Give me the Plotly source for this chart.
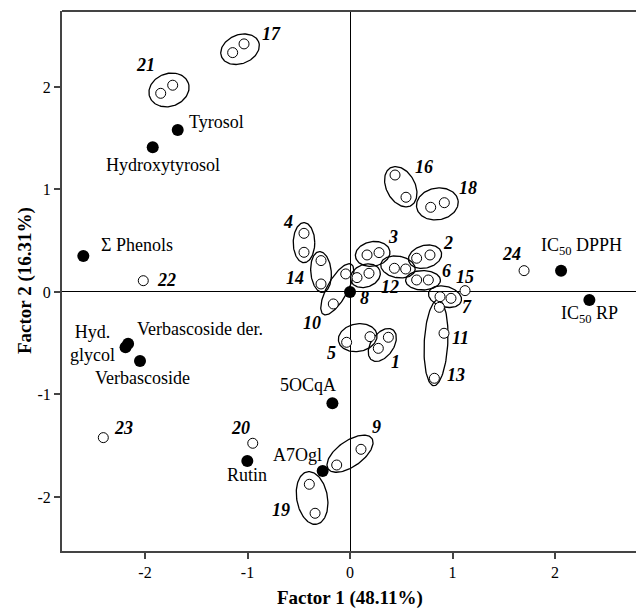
import numpy as np
import plotly.graph_objects as go

# ---- Sample scores (open circles) ----
sample_x = [-0.449, -0.449, -0.283, -0.283, -0.042, -0.163, 0.166, 0.283, 0.068, 0.185,
            0.433, 0.543, 0.650, 0.780, 0.650, 0.764, 1.122, 0.878, 0.985, 0.872,
            0.917, 0.823, -0.033, 0.195, 0.276, 0.374, 0.439, 0.546, 0.787, 0.920,
            -1.145, -1.034, -1.847, -1.730, -2.017, -2.407, -0.949, 1.698, -0.130, 0.107,
            -0.397, -0.341]
sample_y = [0.572, 0.387, 0.306, 0.078, 0.176, -0.117, 0.361, 0.384, 0.140, 0.182,
            0.231, 0.224, 0.329, 0.361, 0.117, 0.117, 0.013, -0.046, -0.062, -0.150,
            -0.403, -0.842, -0.491, -0.436, -0.550, -0.442, 1.141, 0.924, 0.826, 0.871,
            2.335, 2.420, 1.938, 2.017, 0.110, -1.421, -1.476, 0.208, -1.688, -1.535,
            -1.876, -2.159]

# ---- Variables / reference points (filled circles) ----
var_names = ["Tyrosol", "Hydroxytyrosol", "Σ Phenols", "Verbascoside der.", "Hyd. glycol",
             "Verbascoside", "5OCqA", "A7Ogl", "Rutin", "IC50 DPPH", "IC50 RP", "8"]
var_x = [-1.681, -1.925, -2.602, -2.165, -2.190, -2.049, -0.172, -0.267, -1.002, 2.059, 2.335, 0.0]
var_y = [1.580, 1.411, 0.351, -0.505, -0.540, -0.673, -1.086, -1.746, -1.649, 0.208, -0.078, 0.0]

# ---- Sample number labels ----
num_labels = ["4", "14", "10", "3", "2", "6", "15", "12", "8", "7", "5", "1", "11", "13",
              "24", "16", "18", "17", "21", "22", "23", "20", "9", "19"]
num_lx = [-0.602, -0.537, -0.374, 0.422, 0.959, 0.937, 1.122, 0.390, 0.140, 1.144, -0.185,
          0.439, 1.073, 1.031, 1.578, 0.725, 1.154, -0.764, -2.000, -1.795, -2.212, -1.073,
          0.254, -0.673]
num_ly = [0.686, 0.134, -0.300, 0.540, 0.475, 0.208, 0.143, 0.052, -0.061, -0.149, -0.592,
          -0.686, -0.452, -0.810, 0.371, 1.222, 1.018, 2.517, 2.215, 0.117, -1.324, -1.330,
          -1.314, -2.127]

# ---- Variable text labels ----
var_texts = ["Tyrosol", "Hydroxytyrosol", "Σ Phenols", "Hyd.<br>glycol", "Verbascoside der.",
             "Verbascoside", "5OCqA", "A7Ogl", "Rutin", "IC<sub>50</sub> DPPH", "IC<sub>50</sub> RP"]
var_lx = [-1.298, -1.824, -2.078, -2.517, -1.463, -2.020, -0.407, -0.514, -1.008, 2.260, 2.341]
var_ly = [1.661, 1.239, 0.459, -0.504, -0.364, -0.842, -0.907, -1.590, -1.785, 0.442, -0.224]

# ---- Group ellipses: centre x, centre y, width, height, angle (deg) ----
ell_cx = [-0.449, -0.283, -0.124, 0.221, 0.150, 0.468, 0.732, 0.712, 0.927, 0.839,
          0.075, 0.315, 0.495, 0.852, -1.073, -1.766, 0.000, -0.370]
ell_cy = [0.481, 0.195, 0.026, 0.371, 0.158, 0.244, 0.344, 0.114, -0.046, -0.495,
          -0.446, -0.517, 1.027, 0.859, 2.368, 1.971, -1.578, -2.010]
ell_w = [0.21, 0.20, 0.56, 0.34, 0.30, 0.34, 0.33, 0.34, 0.33, 0.23,
         0.38, 0.36, 0.42, 0.41, 0.39, 0.40, 0.52, 0.52]
ell_h = [0.39, 0.40, 0.20, 0.24, 0.22, 0.21, 0.22, 0.19, 0.20, 0.84,
         0.27, 0.22, 0.28, 0.31, 0.28, 0.32, 0.25, 0.30]
ell_ang = [0, 5, 61, 10, 20, -10, 15, 0, -15, -3,
           10, 55, -62, 10, 22, 20, 35, -80]

FONT = "Liberation Serif"

ex, ey = [], []
t = np.linspace(0, 2 * np.pi, 120)
for cx, cy, w, h, a in zip(ell_cx, ell_cy, ell_w, ell_h, ell_ang):
    th = np.deg2rad(a)
    xa, yb = (w / 2) * np.cos(t), (h / 2) * np.sin(t)
    ex += list(cx + xa * np.cos(th) - yb * np.sin(th)) + [None]
    ey += list(cy + xa * np.sin(th) + yb * np.cos(th)) + [None]

fig = go.Figure()
fig.add_trace(go.Scatter(x=ex, y=ey, mode="lines", line=dict(color="black", width=1.3),
                         hoverinfo="skip", showlegend=False))
fig.add_trace(go.Scatter(x=sample_x, y=sample_y, mode="markers",
                         marker=dict(symbol="circle", size=10, color="white",
                                     line=dict(color="black", width=1)),
                         showlegend=False))
fig.add_trace(go.Scatter(x=var_x, y=var_y, mode="markers", text=var_names,
                         marker=dict(symbol="circle", size=12, color="black",
                                     line=dict(color="black", width=0)),
                         showlegend=False))

for s, x, y in zip(num_labels, num_lx, num_ly):
    fig.add_annotation(x=x, y=y, text=f"<b><i>{s}</i></b>", showarrow=False,
                       font=dict(family=FONT, size=18, color="black"))
for s, x, y in zip(var_texts, var_lx, var_ly):
    fig.add_annotation(x=x, y=y, text=s, showarrow=False,
                       font=dict(family=FONT, size=18, color="black"))

# axis titles
fig.add_annotation(x=0.0, xref="x", y=0, yref="paper", yanchor="middle", yshift=-47,
                   text="<b>Factor 1 (48.11%)</b>",
                   showarrow=False, font=dict(family=FONT, size=19, color="black"))
fig.add_annotation(x=0, xref="paper", xanchor="center", xshift=-37, y=0.5, yref="paper",
                   text="<b>Factor 2 (16.31%)</b>",
                   textangle=-90, showarrow=False, font=dict(family=FONT, size=19, color="black"))

# top frame line
fig.add_shape(type="line", xref="paper", yref="paper", x0=0, x1=1, y0=1, y1=1,
              line=dict(color="#444", width=2))

axis_common = dict(showgrid=False, zeroline=True, zerolinecolor="black", zerolinewidth=1,
                   showline=True, linecolor="#444", linewidth=2, ticks="outside",
                   ticklen=6, tickwidth=1.5, tickcolor="#444", automargin=False,
                   tickvals=[-2, -1, 0, 1, 2], ticktext=["-2", "-1", "0", "1", "2"],
                   tickfont=dict(family=FONT, size=16, color="black"))
fig.update_xaxes(range=[-2.81, 2.79], **axis_common)
fig.update_yaxes(range=[-2.527, 2.741], **axis_common)

fig.update_layout(width=636, height=610, margin=dict(l=62, r=0, t=11, b=59, autoexpand=False),
                  paper_bgcolor="white", plot_bgcolor="white", showlegend=False)

fig.write_html("out.html", config={"displayModeBar": False},
               post_script="document.body.style.margin='0';document.body.style.overflow='hidden';")
